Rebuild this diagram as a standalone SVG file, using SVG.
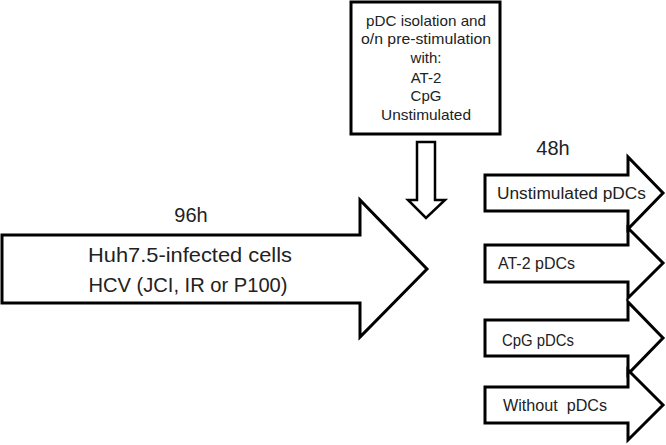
<svg xmlns="http://www.w3.org/2000/svg" width="666" height="445" viewBox="0 0 666 445">
<style>
.shape{fill:#fff;stroke:#000;stroke-width:3;stroke-linejoin:miter}
.t{font-family:"Liberation Sans",Arial,sans-serif;fill:#222}
.box{font-size:15px;text-anchor:middle}
.lab{font-size:16px}
.big{font-size:21px;text-anchor:middle}
.hr{font-size:20px;text-anchor:middle}
</style>
<rect width="666" height="445" fill="#fff"/>
<g id="pdc-box">
<rect class="shape" x="351" y="2" width="149" height="132"/>
<text class="t box" x="426" y="26" textLength="120" lengthAdjust="spacingAndGlyphs">pDC isolation and</text>
<text class="t box" x="426" y="44" textLength="130" lengthAdjust="spacingAndGlyphs">o/n pre-stimulation</text>
<text class="t box" x="426" y="63">with:</text>
<text class="t box" x="426" y="83">AT-2</text>
<text class="t box" x="426" y="101">CpG</text>
<text class="t box" x="426" y="120" textLength="90" lengthAdjust="spacingAndGlyphs">Unstimulated</text>
</g>
<g id="connectors">
<polygon class="shape" points="417,142 435,142 435,200 445,200 426,218 408,200 417,200" style="stroke-width:2.5"/>
</g>
<g id="huh-arrow">
<polygon class="shape" points="2,235 360,235 360,200 427,269 360,337 360,303 2,303"/>
<text class="t hr" x="191" y="222">96h</text>
<text class="t big" x="190" y="262" textLength="204" lengthAdjust="spacingAndGlyphs">Huh7.5-infected cells</text>
<text class="t big" x="188" y="292" textLength="199" lengthAdjust="spacingAndGlyphs">HCV (JCI, IR or P100)</text>
</g>
<text class="t hr" x="553" y="155">48h</text>
<g id="unstim-arrow">
<polygon class="shape" points="485,175 628,175 628,157 663,193 628,229 628,211 485,211"/>
<text class="t lab" x="497" y="199" textLength="149" lengthAdjust="spacingAndGlyphs">Unstimulated pDCs</text>
</g>
<g id="at2-arrow">
<polygon class="shape" points="485,245 628,245 628,228 663,263 628,298 628,282 485,282"/>
<text class="t lab" x="498" y="269" textLength="77" lengthAdjust="spacingAndGlyphs">AT-2 pDCs</text>
</g>
<g id="cpg-arrow">
<polygon class="shape" points="485,320 628,320 628,302 663,338 628,374 628,356 485,356"/>
<text class="t lab" x="502" y="346" textLength="72" lengthAdjust="spacingAndGlyphs">CpG pDCs</text>
</g>
<g id="without-arrow">
<polygon class="shape" points="485,387 628,387 628,370 663,405 628,440 628,423 485,423"/>
<text class="t lab" x="503" y="411" textLength="104" lengthAdjust="spacingAndGlyphs" xml:space="preserve">Without  pDCs</text>
</g>
</svg>
